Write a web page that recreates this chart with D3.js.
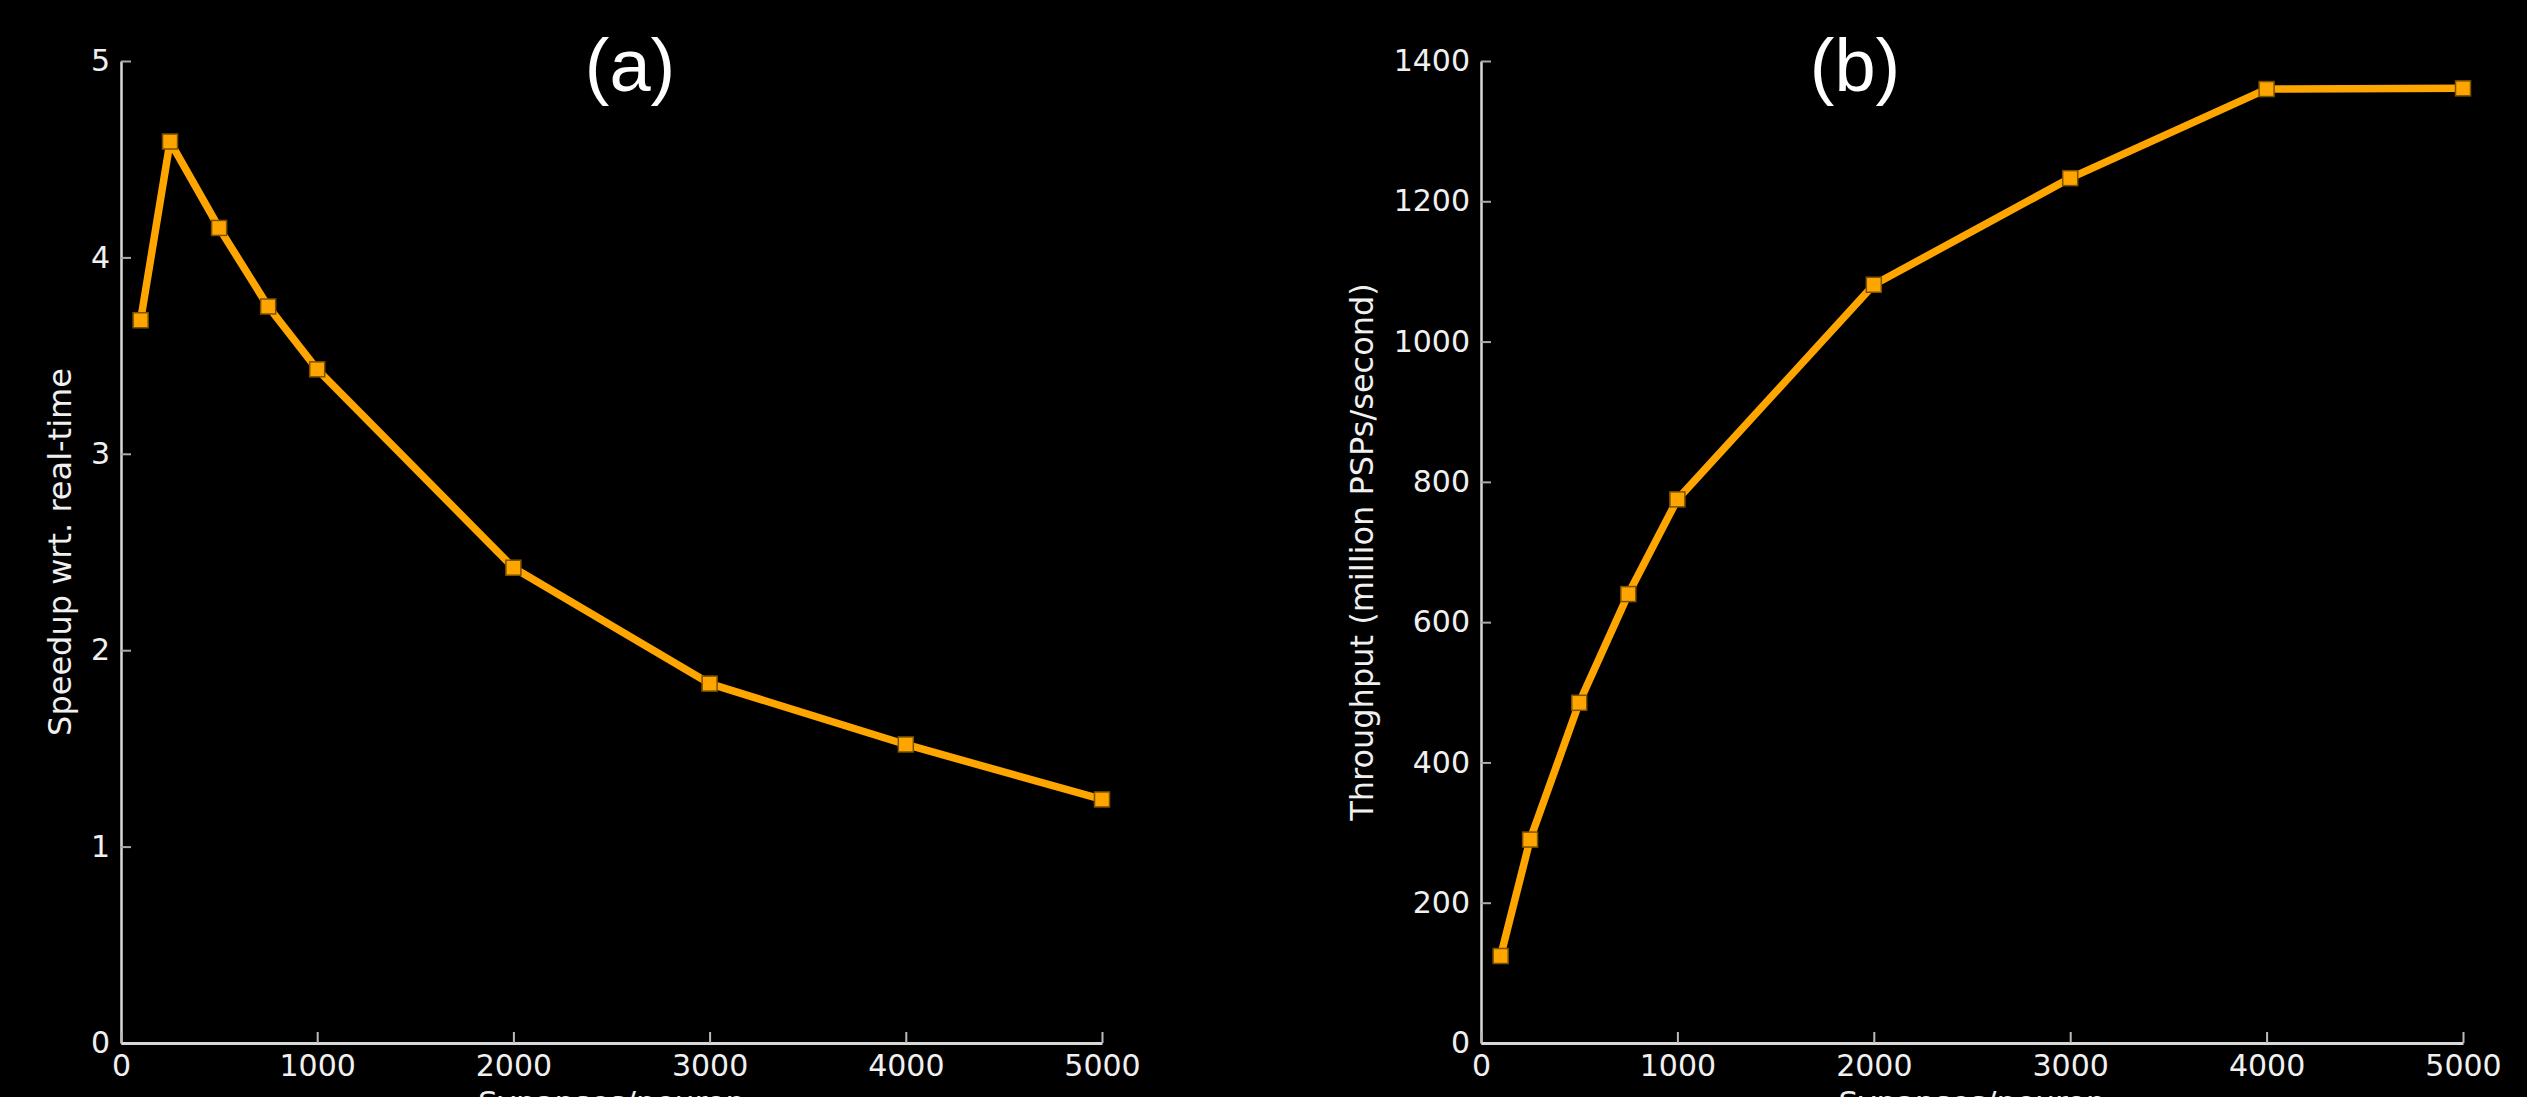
<!DOCTYPE html>
<html>
<head>
<meta charset="utf-8">
<script src="https://cdn.jsdelivr.net/npm/d3@7"></script>
<style>
  html, body { margin: 0; padding: 0; background: #000; overflow: hidden; }
  svg { display: block; }
</style>
</head>
<body>
<svg id="chart" width="2527" height="1097"></svg>
<script>
// ---- data ----
const synapses = [100, 250, 500, 750, 1000, 2000, 3000, 4000, 5000];
const speedup = [3.68, 4.59, 4.15, 3.75, 3.43, 2.42, 1.83, 1.52, 1.24];
const throughput = [124, 290, 485, 640, 775, 1081, 1233, 1360, 1361];
const xTicks = [0, 1000, 2000, 3000, 4000, 5000];
const speedupTicks = [0, 1, 2, 3, 4, 5];
const throughputTicks = [0, 200, 400, 600, 800, 1000, 1200, 1400];
const panelTitles = ["(a)", "(b)"];
const yLabels = ["Speedup wrt. real-time", "Throughput (million PSPs/second)"];
const xLabel = "Synapses/neuron";

// ---- layout ----
const svg = d3.select("#chart");
const plotTop = 61, plotBottom = 1043;
const panels = [
  { left: 121, right: 1102, values: speedup, domain: [0, 5], ticks: speedupTicks,
    title: panelTitles[0], titleX: 630, ylab: yLabels[0], ylabX: 60 },
  { left: 1481, right: 2463, values: throughput, domain: [0, 1400], ticks: throughputTicks,
    title: panelTitles[1], titleX: 1855, ylab: yLabels[1], ylabX: 1362 }
];

const lineColor = "#FFA500";
const edgeColor = "#7a5200";
const axisColor = "#d8d8d8";
const textColor = "#f0f0f0";
const tickFont = "DejaVu Sans, sans-serif";

panels.forEach(p => {
  const x = d3.scaleLinear().domain([0, 5000]).range([p.left, p.right]);
  const y = d3.scaleLinear().domain(p.domain).range([plotBottom, plotTop]);

  const g = svg.append("g");

  // y axis
  const ya = g.append("g")
    .attr("transform", `translate(${p.left},0)`)
    .call(d3.axisLeft(y).tickValues(p.ticks).tickFormat(d3.format("d"))
      .tickSizeInner(-10).tickSizeOuter(0).tickPadding(11));
  ya.select(".domain").attr("stroke", axisColor).attr("stroke-width", 2.5);
  ya.selectAll(".tick line").attr("stroke", "#aaaaaa").attr("stroke-width", 2);
  ya.selectAll(".tick text").attr("fill", textColor)
    .style("font-family", tickFont).style("font-size", "30px");

  // x axis
  const xa = g.append("g")
    .attr("transform", `translate(0,${plotBottom})`)
    .call(d3.axisBottom(x).tickValues(xTicks).tickFormat(d3.format("d"))
      .tickSizeInner(-11).tickSizeOuter(0).tickPadding(12));
  xa.select(".domain").attr("stroke", axisColor).attr("stroke-width", 3);
  xa.selectAll(".tick line").attr("stroke", "#bbbbbb").attr("stroke-width", 2);
  xa.selectAll(".tick text").attr("fill", textColor)
    .style("font-family", tickFont).style("font-size", "30px");

  // line
  const data = synapses.map((s, i) => [s, p.values[i]]);
  g.append("path")
    .datum(data)
    .attr("fill", "none")
    .attr("stroke", lineColor)
    .attr("stroke-width", 7.5)
    .attr("stroke-linejoin", "round")
    .attr("d", d3.line().x(d => x(d[0])).y(d => y(d[1])));

  // markers
  const ms = 15;
  g.selectAll("rect.mk")
    .data(data)
    .join("rect")
    .attr("class", "mk")
    .attr("x", d => x(d[0]) - ms / 2)
    .attr("y", d => y(d[1]) - ms / 2)
    .attr("width", ms)
    .attr("height", ms)
    .attr("fill", lineColor)
    .attr("stroke", edgeColor)
    .attr("stroke-width", 1.5);

  // title
  g.append("text")
    .attr("x", p.titleX)
    .attr("y", 91)
    .attr("text-anchor", "middle")
    .attr("fill", "#ffffff")
    .style("font-family", "Liberation Sans, Arial, sans-serif")
    .style("font-size", "74px")
    .text(p.title);

  // y label
  const cy = (plotTop + plotBottom) / 2;
  g.append("text")
    .attr("transform", `translate(${p.ylabX},${cy}) rotate(-90)`)
    .attr("text-anchor", "middle")
    .attr("dominant-baseline", "central")
    .attr("fill", textColor)
    .style("font-family", tickFont)
    .style("font-size", "32px")
    .text(p.ylab);

  // x label (partially cut off at the bottom edge, as in the reference)
  g.append("text")
    .attr("x", (p.left + p.right) / 2)
    .attr("y", 1113)
    .attr("text-anchor", "middle")
    .attr("fill", textColor)
    .style("font-family", tickFont)
    .style("font-size", "31px")
    .text(xLabel);
});
</script>
</body>
</html>
